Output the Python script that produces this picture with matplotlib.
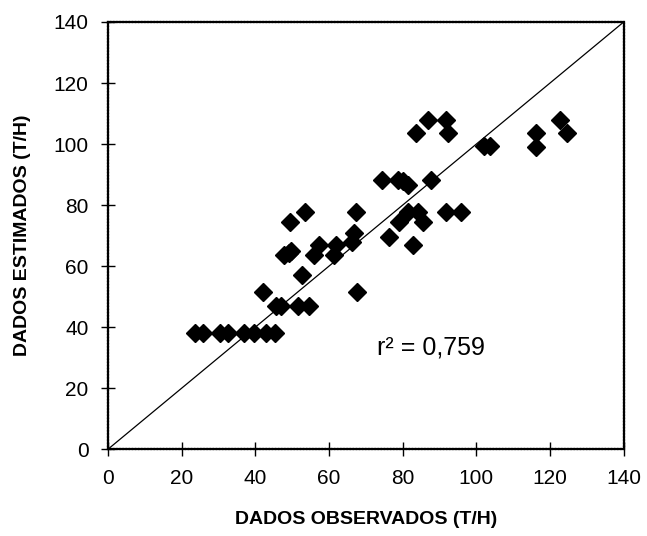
import numpy as np
import matplotlib.pyplot as plt

plt.rcParams['font.family'] = ['Liberation Sans', 'DejaVu Sans']

obs = [23.7, 25.9, 30.5, 32.7, 36.8, 39.5, 42.8, 45.2,
       42.2, 45.5, 47.0, 51.5, 54.5, 52.7,
       47.7, 49.0, 49.8, 49.5, 53.6,
       55.9, 57.2, 61.3, 61.8, 66.1, 66.9, 67.2, 67.7,
       74.3, 76.3, 79.1, 78.8, 80.2, 81.4, 81.4, 84.1, 82.7, 85.4,
       83.7, 86.8, 87.6, 91.8, 92.2, 91.8, 95.9,
       102.0, 103.8, 116.3, 116.3, 122.7, 124.5]
est = [38, 38, 38, 38, 38, 38, 38, 38,
       51.5, 47, 47, 47, 47, 57,
       63.6, 64.2, 65, 74.5, 77.8,
       63.6, 66.9, 63.6, 66.9, 68, 70.7, 77.8, 51.6,
       88.2, 69.6, 74.5, 88.2, 88, 86.6, 77.8, 77.8, 66.9, 74.5,
       103.7, 107.9, 88.2, 107.9, 103.5, 77.8, 77.8,
       99.2, 99.2, 103.7, 98.9, 107.9, 103.7]
r2_text = 'r² = 0,759'

fig = plt.figure(figsize=(6.47, 5.36), dpi=100)
ax = fig.add_axes([0.167, 0.162, 0.797, 0.797])

ax.plot([0, 140], [0, 140], color='black', lw=0.9)
ax.plot(obs, est, 'D', color='black', ms=9, mec='black', mew=1, mfc='black')

ax.set_xlim(0, 140)
ax.set_ylim(0, 140)
ax.set_xticks(np.arange(0, 141, 20))
ax.set_yticks(np.arange(0, 141, 20))
ax.tick_params(direction='inout', length=10, width=1, labelsize=15, pad=9)
for s in ax.spines.values():
    s.set_linewidth(1.6)
    s.set_linestyle((0, (1, 0.4)))

ax.set_xlabel('DADOS OBSERVADOS (T/H)', fontsize=14, fontweight='bold', labelpad=17)
ax.set_ylabel('DADOS ESTIMADOS (T/H)', fontsize=14, fontweight='bold', labelpad=16)

ax.text(73, 33.4, r2_text, fontsize=18, va='center', ha='left')

fig.savefig('out.png', dpi=100)
